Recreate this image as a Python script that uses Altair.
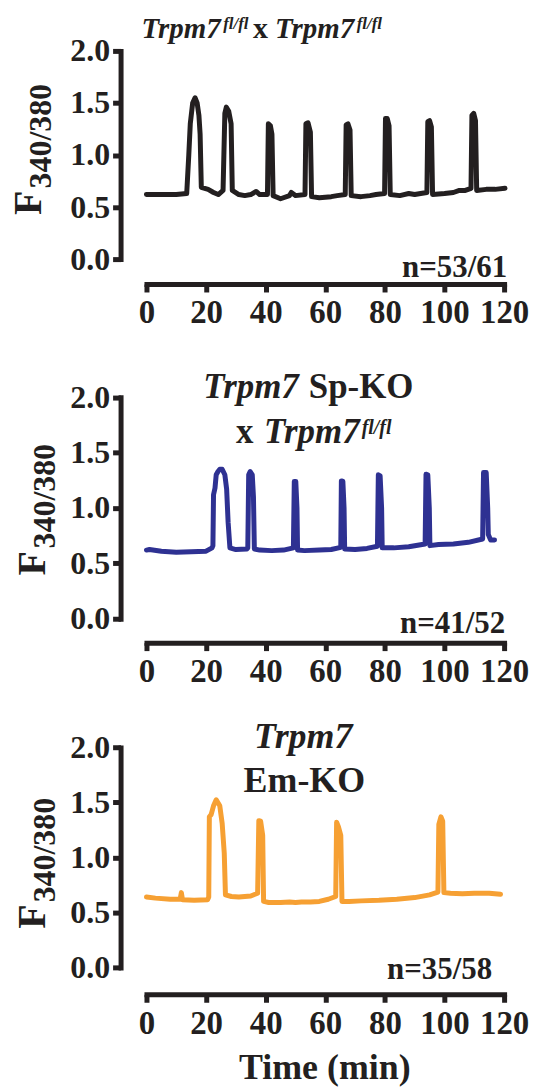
import altair as alt
import pandas as pd

# ---------------- data ----------------
# Panel 1: Trpm7 fl/fl x Trpm7 fl/fl (black)
t1 = [0, 5, 10, 13.5, 14.2, 14.7, 15.5, 16.3, 17.0, 17.6, 18.0, 18.4,
      20.7, 22.5, 24.1, 25.7, 26.3, 26.8, 27.6, 28.4, 28.8,
      31, 33, 35, 36.8, 38, 40.6, 40.9, 41.6, 42.1, 42.5,
      45, 48, 48.6, 50, 53.2, 53.5, 54.2, 55.0, 55.4,
      58, 62, 64, 66.7, 67.0, 67.6, 68.3, 68.7,
      72, 75, 77, 79.9, 80.2, 80.8, 81.4, 81.8,
      85, 88, 90, 92, 94.1, 94.4, 95.0, 95.6, 96.0,
      100, 103, 105, 107, 108.9, 109.2, 109.8, 110.4, 110.8,
      114, 117, 120.3]
v1 = [0.62, 0.62, 0.62, 0.63, 1.00, 1.30, 1.50, 1.55, 1.50, 1.38, 1.20, 0.69,
      0.67, 0.64, 0.62, 0.66, 1.40, 1.46, 1.42, 1.30, 0.66,
      0.62, 0.61, 0.62, 0.65, 0.62, 0.62, 1.30, 1.28, 1.20, 0.61,
      0.58, 0.61, 0.64, 0.61, 0.62, 1.30, 1.31, 1.22, 0.60,
      0.59, 0.60, 0.61, 0.62, 1.29, 1.30, 1.24, 0.61,
      0.60, 0.61, 0.62, 0.63, 1.35, 1.35, 1.28, 0.62,
      0.61, 0.63, 0.62, 0.63, 0.64, 1.32, 1.33, 1.27, 0.62,
      0.63, 0.64, 0.66, 0.66, 0.68, 1.38, 1.40, 1.33, 0.66,
      0.67, 0.67, 0.68]

# Panel 2: Trpm7 Sp-KO x Trpm7 fl/fl (blue)
t2 = [0, 1, 5, 10, 15, 20, 22.0, 22.3, 22.5, 23.0, 23.4, 24.0, 24.6, 25.4,
      26.3, 26.9, 27.4, 28.0,
      30, 33.7, 34.0, 34.3, 34.8, 35.5, 35.9, 36.2,
      38, 42, 46, 49.3, 49.6, 50.1, 50.5, 50.7,
      53, 58, 62, 65.2, 65.4, 65.9, 66.3, 66.5,
      70, 74, 77.5, 77.8, 78.4, 78.9, 79.1,
      83, 88, 93.5, 93.8, 94.4, 94.9, 95.1,
      98, 103, 108, 112.8, 113.1, 114.0, 114.5, 114.7, 115.5, 116.8]
v2 = [0.62, 0.625, 0.61, 0.60, 0.605, 0.61, 0.64, 0.66, 1.12, 1.18, 1.30, 1.33, 1.35, 1.35,
      1.30, 1.17, 0.87, 0.64,
      0.625, 0.63, 0.64, 1.30, 1.33, 1.30, 1.10, 0.63,
      0.62, 0.615, 0.62, 0.64, 1.24, 1.24, 1.00, 0.62,
      0.615, 0.62, 0.625, 0.645, 1.245, 1.24, 1.00, 0.63,
      0.625, 0.635, 0.655, 1.30, 1.29, 1.00, 0.64,
      0.64, 0.65, 0.675, 1.305, 1.30, 1.00, 0.66,
      0.67, 0.675, 0.69, 0.72, 1.32, 1.32, 1.00, 0.76, 0.71, 0.71]

# Panel 3: Trpm7 Em-KO (orange)
t3 = [0, 3, 8, 11.3, 11.7, 12.1, 16, 20.5, 20.9, 21.1, 21.7, 22.5, 23.4, 24.6,
      25.4, 26.1, 26.5,
      28.5, 31, 33, 35, 37.3, 37.7, 38.3, 39.0, 39.3,
      41, 45, 48, 50, 52, 55, 58, 61, 63.5, 63.8, 64.4, 65.2, 65.6,
      68, 72, 78, 84, 90, 95, 97.8, 98.1, 98.8, 99.4, 99.8,
      102, 106, 110, 115, 118.8]
v3 = [0.64, 0.63, 0.62, 0.62, 0.68, 0.615, 0.61, 0.615, 0.64, 1.37, 1.39, 1.47, 1.525, 1.47,
      1.31, 1.04, 0.66,
      0.645, 0.64, 0.645, 0.65, 0.675, 1.335, 1.33, 1.20, 0.60,
      0.59, 0.59, 0.595, 0.59, 0.595, 0.595, 0.60, 0.62, 0.645, 1.32, 1.28, 1.20, 0.60,
      0.60, 0.605, 0.61, 0.62, 0.635, 0.66, 0.685, 1.30, 1.37, 1.33, 0.68,
      0.675, 0.67, 0.675, 0.675, 0.665]

x_ticks = [0, 20, 40, 60, 80, 100, 120]
y_ticks = [0.0, 0.5, 1.0, 1.5, 2.0]
n_labels = ["n=53/61", "n=41/52", "n=35/58"]
colors = ["#231f20", "#2e3192", "#f6a033"]
x_title = "Time (min)"

INK = "#231f20"
FONT = "Liberation Serif"
W = 359


def text(s, x, y, size, italic=False, align="left", angle=0):
    kw = dict(text=s, font=FONT, fontSize=size, fontWeight="bold",
              fontStyle="italic" if italic else "normal", color=INK,
              align=align, baseline="alphabetic")
    if angle:
        kw["angle"] = angle
    return alt.Chart(pd.DataFrame({"a": [0]})).mark_text(**kw).encode(
        x=alt.value(x), y=alt.value(y))


def panel(t, v, color, height, yrange, xoffset, extras):
    df = pd.DataFrame({"t": t, "v": v})
    line = alt.Chart(df).mark_line(
        color=color, strokeWidth=5, strokeJoin="round", strokeCap="round"
    ).encode(
        x=alt.X("t:Q", scale=alt.Scale(domain=[0, 120], nice=False, zero=False),
                axis=alt.Axis(values=x_ticks, title=None, offset=xoffset,
                              labelFontSize=33, labelPadding=5)),
        y=alt.Y("v:Q", scale=alt.Scale(domain=[0, 2], nice=False, range=yrange),
                axis=alt.Axis(values=y_ticks, format=".1f", title=None, offset=26,
                              labelFontSize=32, labelPadding=3)),
    )
    return alt.layer(line, *extras).properties(width=W, height=height)


def ytitle(xf, yf, xs, ys):
    return [text("F", xf, yf, 40, angle=270), text("340/380", xs, ys, 32, angle=270)]


p1_extras = [
    text("Trpm7", -5, -12.7, 29, italic=True),
    text("fl/fl", 77, -22, 17, italic=True),
    text("x", 107, -12.7, 30),
    text("Trpm7", 129, -12.7, 29, italic=True),
    text("fl/fl", 211, -22, 17, italic=True),
    text(n_labels[0], 362, 227, 31, align="right"),
] + ytitle(-106.3, 164.7, -96.3, 138)

p2_extras = [
    text("Trpm7", 57, 139.7, 35, italic=True),
    text("Sp-KO", 163, 139.7, 35),
    text("x", 90, 184.4, 35),
    text("Trpm7", 118, 184.4, 35, italic=True),
    text("fl/fl", 216, 175.6, 20, italic=True),
    text(n_labels[1], 360, 375, 31, align="right"),
] + ytitle(-102, 317.6, -91.5, 290.4)

p3_extras = [
    text("Trpm7", 108, 130, 36, italic=True),
    text("Em-KO", 97.5, 174, 36),
    text(n_labels[2], 347, 362, 31, align="right"),
    text(x_title, 179, 462, 36, align="center"),
] + ytitle(-102, 311.3, -91.5, 284.7)

p1 = panel(t1, v1, colors[0], 209, [209, 0], 25, p1_extras)
p2 = panel(t2, v2, colors[1], 361, [361, 138.7], 24, p2_extras)
p3 = panel(t3, v3, colors[2], 350, [350, 129.3], 27, p3_extras)

chart = alt.vconcat(p1, p2, p3, spacing=0, bounds="flush").properties(
    padding={"left": 0, "top": 4, "right": 0, "bottom": 0}
).configure_view(stroke=None).configure_axis(
    grid=False,
    labelFont=FONT, labelFontWeight="bold", labelColor=INK,
    labelFlush=False, labelOverlap=False,
    domainColor=INK, domainWidth=5, domainCap="square",
    tickColor=INK, tickWidth=5, tickSize=8,
)

chart.save("out.html", embed_options={"renderer": "svg", "actions": False})
